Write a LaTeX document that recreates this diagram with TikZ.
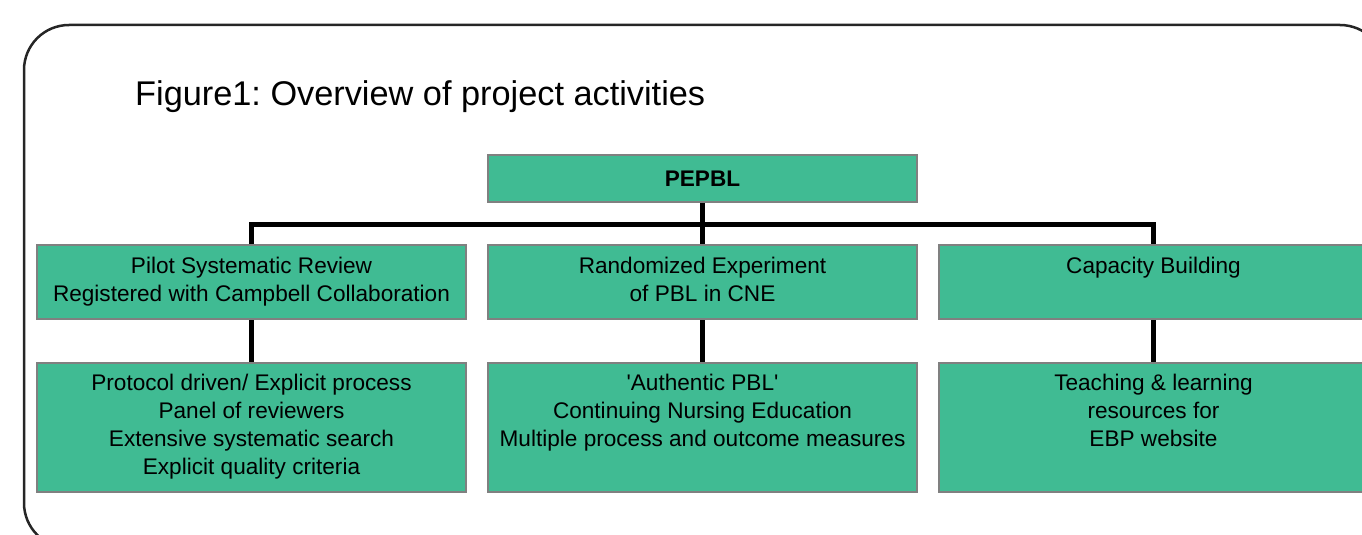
\documentclass[tikz,border=0pt]{standalone}
\usepackage{fontspec}
\setmainfont{Liberation Sans}
\definecolor{boxgreen}{RGB}{64,187,147}
\frenchspacing
\begin{document}
\begin{tikzpicture}[x=1pt,y=-1pt,
   box/.style={rectangle,draw=gray,line width=2pt,fill=boxgreen,minimum width=429pt,inner sep=0pt},
   boxtxt/.style={anchor=north,align=center,font=\fontsize{22.6}{28}\selectfont,inner sep=0pt},
   link/.style={draw=black,line width=5pt}]
   \clip (0,0) rectangle (1362,535);
   \draw[line width=2.5pt,draw=black!85,rounded corners=45pt] (24,25) rectangle (1385,548);
   \node[anchor=base west,inner sep=0pt,font=\fontsize{34.3}{40}\selectfont] (title) at (135,105) {Figure1: Overview of project activities};
   \node[box,minimum height=47pt,font=\bfseries\fontsize{22.6}{28}\selectfont] (top) at (702.5,178.5) {PEPBL};
   % second row: the three project strands
   \foreach \n/\x/\txt in {{r1/251.5/{Pilot Systematic Review\\Registered with Campbell Collaboration}},{r2/702.5/{Randomized Experiment\\of PBL in CNE}},{r3/1153.5/{Capacity Building}}}{
      \node[box,minimum height=74pt] (\n) at (\x,282) {};
      \node[boxtxt] (\n-txt) at ([yshift=-13pt]\n.north) {\txt};
   }
   % third row: details of each strand
   \foreach \n/\x/\txt in {{d1/251.5/{Protocol driven/ Explicit process\\Panel of reviewers\\Extensive systematic search\\Explicit quality criteria}},{d2/702.5/{\textquotesingle Authentic PBL\textquotesingle\\Continuing Nursing Education\\Multiple process and outcome measures}},{d3/1153.5/{Teaching \& learning\\resources for\\EBP website}}}{
      \node[box,minimum height=129pt] (\n) at (\x,427.5) {};
      \node[boxtxt] (\n-txt) at ([yshift=-12pt]\n.north) {\txt};
   }
   \coordinate (bar) at (702.5,224);
   \draw[link] (top) -- (r2);
   \draw[link] (r1.north) -- (r1.north |- bar) -- (r3.north |- bar) -- (r3.north);
   \foreach \i in {1,2,3}
      \draw[link] (r\i) -- (d\i);
\end{tikzpicture}
\end{document}
